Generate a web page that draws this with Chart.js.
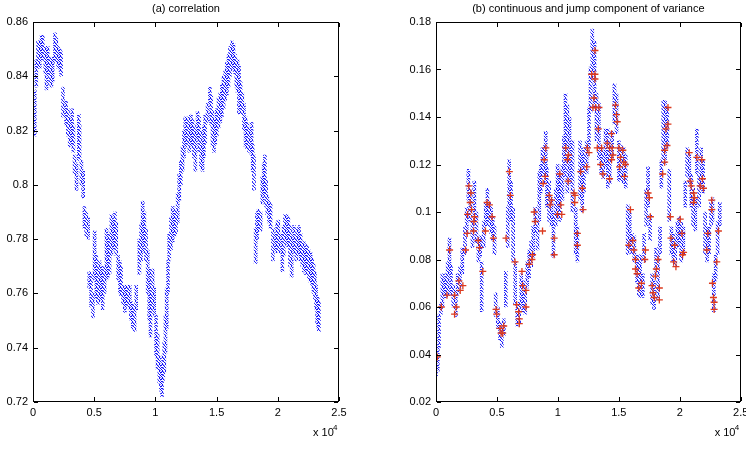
<!DOCTYPE html>
<html>
<head>
<meta charset="utf-8">
<script src="https://cdn.jsdelivr.net/npm/chart.js@4.4.1/dist/chart.umd.min.js"></script>
<style>
  body { margin: 0; background: #fff; }
  #wrap { position: relative; width: 746px; height: 452px; }
  canvas { position: absolute; top: 0; }
</style>
</head>
<body>
<div id="wrap">
  <canvas id="corrChart" width="373" height="452" style="left:0"></canvas>
  <canvas id="varChart" width="373" height="452" style="left:373px"></canvas>
</div>
<script>
// (a) correlation: observation index and the low/high edge of the point cloud there
const corrIdx = [0,135,270,420,550,700,800,1000,1100,1200,
  1400,1500,1600,1800,1900,2050,2200,2300,2450,2700,
  2850,3000,3200,3300,3400,3550,3750,3800,3950,4100,
  4200,4350,4500,4600,4750,4900,5030,5170,5300,5440,
  5580,5700,5850,6000,6120,6250,6400,6550,6700,6800,
  6950,7100,7200,7350,7500,7600,7750,7900,8000,8150,
  8300,8430,8690,8830,8960,9100,9230,9370,9500,9600,
  9775,9900,10050,10180,10320,10450,10540,10640,10730,10820,
  10920,11030,11130,11270,11410,11550,11680,11820,11950,12080,
  12220,12330,12440,12630,12770,12900,13040,13150,13260,13450,
  13580,13720,13850,13960,14070,14260,14450,14560,14670,14780,
  14890,15020,15160,15300,15430,15570,15700,15830,15970,16100,
  16250,16380,16520,16620,16710,16830,16960,17100,17230,17370,
  17500,17650,17860,17950,18050,18190,18300,18410,18600,18730,
  18850,18950,19040,19140,19280,19410,19600,19820,19950,20040,
  20230,20370,20480,20580,20720,20860,21000,21130,21320,21510,
  21620,21730,21870,22000,22130,22270,22400,22540,22680,22810,
  22920,23030,23120,23220,23300,23360];
const corrLo = [0.818,0.818,0.836,0.843,0.843,0.847,0.846,0.841,0.835,0.841,
  0.837,0.836,0.838,0.846,0.845,0.843,0.842,0.840,0.825,0.822,
  0.818,0.814,0.815,0.812,0.804,0.798,0.809,0.810,0.800,0.795,
  0.784,0.781,0.780,0.762,0.755,0.751,0.765,0.758,0.756,0.757,
  0.758,0.754,0.760,0.765,0.766,0.767,0.774,0.776,0.777,0.774,
  0.765,0.760,0.759,0.756,0.753,0.755,0.756,0.754,0.750,0.747,
  0.746,0.754,0.767,0.772,0.775,0.778,0.772,0.760,0.750,0.744,
  0.754,0.752,0.737,0.732,0.727,0.724,0.722,0.728,0.731,0.738,
  0.747,0.760,0.772,0.776,0.779,0.781,0.782,0.786,0.794,0.800,
  0.805,0.810,0.814,0.815,0.812,0.815,0.814,0.810,0.805,0.817,
  0.812,0.806,0.805,0.810,0.815,0.823,0.830,0.822,0.814,0.812,
  0.815,0.818,0.821,0.823,0.825,0.828,0.831,0.833,0.836,0.840,
  0.843,0.842,0.841,0.836,0.834,0.826,0.828,0.826,0.820,0.814,
  0.813,0.812,0.811,0.805,0.798,0.771,0.780,0.783,0.783,0.793,
  0.796,0.796,0.792,0.789,0.786,0.784,0.772,0.776,0.775,0.777,
  0.775,0.768,0.774,0.780,0.778,0.777,0.770,0.766,0.775,0.772,
  0.774,0.775,0.772,0.770,0.768,0.767,0.768,0.765,0.764,0.763,
  0.760,0.758,0.754,0.749,0.747,0.746];
const corrHi = [0.826,0.835,0.846,0.853,0.853,0.855,0.855,0.851,0.850,0.851,
  0.847,0.846,0.847,0.856,0.854,0.851,0.850,0.849,0.836,0.831,
  0.828,0.825,0.828,0.822,0.811,0.808,0.826,0.822,0.809,0.805,
  0.792,0.790,0.788,0.768,0.767,0.760,0.783,0.774,0.770,0.772,
  0.770,0.768,0.770,0.784,0.780,0.782,0.789,0.787,0.790,0.786,
  0.774,0.772,0.770,0.763,0.762,0.763,0.763,0.763,0.757,0.756,
  0.755,0.763,0.780,0.786,0.794,0.790,0.784,0.776,0.769,0.760,
  0.769,0.762,0.752,0.745,0.737,0.734,0.732,0.737,0.742,0.752,
  0.762,0.772,0.782,0.788,0.792,0.790,0.791,0.797,0.804,0.809,
  0.814,0.820,0.825,0.825,0.823,0.826,0.824,0.822,0.820,0.827,
  0.825,0.820,0.816,0.822,0.826,0.830,0.836,0.833,0.827,0.824,
  0.824,0.828,0.832,0.834,0.837,0.840,0.842,0.845,0.848,0.851,
  0.853,0.852,0.848,0.846,0.846,0.844,0.838,0.834,0.830,0.825,
  0.823,0.821,0.823,0.815,0.811,0.784,0.790,0.791,0.790,0.803,
  0.808,0.811,0.802,0.796,0.794,0.793,0.784,0.782,0.786,0.787,
  0.782,0.776,0.785,0.789,0.789,0.788,0.785,0.781,0.785,0.781,
  0.784,0.785,0.782,0.779,0.779,0.777,0.778,0.776,0.775,0.773,
  0.771,0.768,0.763,0.759,0.758,0.757];

// (b) continuous component: low/high edge of the cloud
const varIdx = [0,140,250,410,520,690,830,960,1100,1230,
  1420,1620,1780,1970,2160,2380,2520,2660,2820,2990,
  3150,3320,3480,3620,3750,3920,4080,4220,4360,4520,
  4660,4800,4900,5070,5260,5400,5560,5730,5890,6000,
  6160,6330,6490,6660,6820,6990,7150,7320,7480,7640,
  7810,7970,8140,8330,8470,8600,8740,8880,9000,9090,
  9280,9470,9640,9830,9970,10100,10180,10370,10500,10620,
  10780,10950,11200,11460,11600,11820,12000,12140,12360,12550,
  12680,12820,13010,13170,13360,13550,13720,13910,14100,14260,
  14450,14640,14810,15000,15190,15400,15570,15730,15890,16080,
  16270,16490,16650,16750,16970,17080,17240,17400,17570,17730,
  17890,18060,18220,18380,18490,18650,18790,18980,19140,19310,
  19470,19630,19800,19960,20120,20290,20450,20610,20780,20940,
  21100,21270,21400,21590,21750,21920,22080,22240,22410,22570,
  22680,22790,22950,23110,23280];
const varLo = [0.031,0.033,0.043,0.057,0.060,0.064,0.064,0.065,0.074,0.065,
  0.060,0.056,0.065,0.068,0.074,0.082,0.091,0.105,0.096,0.085,
  0.096,0.087,0.079,0.081,0.058,0.085,0.094,0.096,0.094,0.091,
  0.088,0.082,0.056,0.051,0.046,0.043,0.048,0.060,0.085,0.102,
  0.096,0.079,0.061,0.052,0.053,0.060,0.058,0.057,0.068,0.072,
  0.077,0.081,0.091,0.084,0.096,0.108,0.115,0.116,0.112,0.102,
  0.096,0.094,0.081,0.094,0.098,0.100,0.096,0.105,0.115,0.122,
  0.108,0.112,0.100,0.082,0.079,0.105,0.100,0.108,0.116,0.127,
  0.142,0.156,0.144,0.130,0.122,0.116,0.114,0.119,0.110,0.112,
  0.122,0.137,0.133,0.113,0.113,0.112,0.110,0.082,0.084,0.082,
  0.079,0.070,0.065,0.064,0.064,0.079,0.094,0.102,0.088,0.061,
  0.059,0.074,0.063,0.082,0.110,0.122,0.120,0.127,0.096,0.082,
  0.079,0.077,0.085,0.087,0.079,0.082,0.102,0.115,0.112,0.102,
  0.094,0.092,0.116,0.102,0.110,0.108,0.082,0.079,0.082,0.094,
  0.096,0.058,0.071,0.082,0.094];
const varHi = [0.041,0.043,0.057,0.062,0.074,0.072,0.074,0.079,0.089,0.078,
  0.069,0.067,0.074,0.077,0.085,0.094,0.102,0.118,0.110,0.096,
  0.113,0.100,0.089,0.090,0.079,0.096,0.104,0.110,0.104,0.102,
  0.098,0.094,0.066,0.060,0.054,0.051,0.055,0.075,0.102,0.122,
  0.113,0.102,0.079,0.062,0.062,0.074,0.071,0.068,0.079,0.084,
  0.088,0.094,0.102,0.096,0.117,0.120,0.127,0.128,0.134,0.119,
  0.113,0.106,0.100,0.110,0.120,0.116,0.116,0.120,0.132,0.150,
  0.145,0.140,0.130,0.102,0.094,0.130,0.124,0.127,0.130,0.144,
  0.161,0.177,0.172,0.150,0.146,0.127,0.126,0.135,0.135,0.130,
  0.134,0.154,0.150,0.130,0.128,0.127,0.124,0.103,0.100,0.091,
  0.090,0.082,0.079,0.082,0.074,0.091,0.110,0.119,0.099,0.074,
  0.071,0.085,0.082,0.094,0.122,0.147,0.147,0.144,0.118,0.094,
  0.091,0.089,0.096,0.098,0.096,0.094,0.113,0.127,0.125,0.116,
  0.110,0.106,0.135,0.116,0.127,0.122,0.100,0.094,0.094,0.104,
  0.106,0.074,0.082,0.096,0.104];

// (b) jump component (red crosses)
const jumpIdx = [108,435,898,1116,1524,1524,1660,1878,1987,2205,
  2423,2559,2586,2695,2804,2859,2913,3076,3104,3158,
  3458,3567,3839,4057,4193,4384,4601,4710,4928,4983,
  5255,5337,5473,5555,5745,6017,6099,6480,6616,6780,
  6834,6834,7052,7107,7379,7379,7651,7869,7923,8060,
  8142,8740,8795,8876,8958,9013,9285,9367,9476,9694,
  9694,9966,10157,10238,10320,10646,10783,10837,10864,11327,
  11381,11409,11600,11600,11871,12008,12062,12362,12416,12552,
  12770,12879,12960,13042,13042,13042,13097,13233,13315,13369,
  13505,13587,13696,14050,14240,14240,14404,14404,14458,14513,
  14731,14812,14867,15003,15058,15139,15330,15411,15466,15548,
  15820,15956,16150,16230,16366,16366,16500,16637,16855,17128,
  17182,17399,17508,17590,17727,17808,17917,17998,18080,18216,
  18325,18325,18598,18761,18761,18870,18952,19033,19033,19224,
  19278,19496,19577,19686,20040,20177,20231,20313,20776,20857,
  20939,21130,21130,21211,21402,21674,21810,21864,21946,22219,
  22301,22627,22627,22682,22764,22819,22819,23036,23172];
const jumpVal = [0.039,0.060,0.065,0.084,0.065,0.057,0.060,0.071,0.067,0.069,
  0.084,0.091,0.099,0.111,0.104,0.108,0.101,0.092,0.096,0.098,
  0.088,0.085,0.075,0.092,0.104,0.103,0.098,0.089,0.059,0.057,
  0.051,0.049,0.049,0.052,0.089,0.117,0.107,0.079,0.061,0.058,
  0.055,0.053,0.075,0.069,0.067,0.060,0.078,0.080,0.082,0.100,
  0.096,0.092,0.112,0.122,0.115,0.127,0.107,0.103,0.105,0.089,
  0.082,0.099,0.116,0.103,0.099,0.127,0.122,0.113,0.124,0.108,
  0.104,0.107,0.091,0.086,0.117,0.110,0.101,0.119,0.127,0.125,
  0.158,0.144,0.148,0.168,0.158,0.156,0.144,0.127,0.135,0.144,
  0.120,0.127,0.116,0.129,0.127,0.114,0.133,0.122,0.127,0.124,
  0.145,0.141,0.138,0.127,0.119,0.123,0.126,0.121,0.115,0.120,
  0.086,0.101,0.088,0.084,0.080,0.076,0.074,0.068,0.070,0.080,
  0.084,0.108,0.106,0.098,0.069,0.066,0.064,0.073,0.076,0.080,
  0.068,0.063,0.116,0.121,0.126,0.135,0.128,0.137,0.144,0.098,
  0.089,0.079,0.086,0.077,0.097,0.091,0.082,0.083,0.125,0.113,
  0.111,0.108,0.104,0.106,0.123,0.111,0.122,0.114,0.110,0.084,
  0.091,0.105,0.101,0.070,0.064,0.062,0.059,0.079,0.092];

const xTicks = [0, 5000, 10000, 15000, 20000, 25000];
const corrTicks = [0.72, 0.74, 0.76, 0.78, 0.8, 0.82, 0.84, 0.86];
const varTicks = [0.02, 0.04, 0.06, 0.08, 0.1, 0.12, 0.14, 0.16, 0.18];

const FONT = 'Liberation Sans, Arial, Helvetica, sans-serif';

function bandData(idx, lo, hi) {
  return idx.map((x, i) => ({ x: x, y: [lo[i], hi[i]] }));
}

// speckled blue fill so the bands read like a cloud of tiny dots
function dotPattern() {
  const c = document.createElement('canvas');
  c.width = 6; c.height = 7;
  const g = c.getContext('2d');
  g.fillStyle = 'rgba(10, 10, 250, 0.9)';
  [[0,0],[3,0],[1,1],[4,1],[5,1],[2,2],[0,3],[3,3],[5,3],
   [1,4],[4,4],[2,5],[5,5],[0,6],[3,6]].forEach(p => g.fillRect(p[0], p[1], 1, 1));
  g.fillStyle = 'rgba(110, 110, 255, 0.45)';
  [[1,0],[5,0],[2,1],[4,2],[1,3],[0,4],[3,5],[4,6]].forEach(p => g.fillRect(p[0], p[1], 1, 1));
  return c;
}

// matlab style box: frame, inward ticks on all 4 sides, title, x 10^4 note
const boxPlugin = {
  id: 'matlabBox',
  afterDraw(chart) {
    const ctx = chart.ctx;
    const a = chart.chartArea;
    const xs = chart.scales.x, ys = chart.scales.y;
    const L = Math.round(a.left), R = Math.round(a.right);
    const T = Math.round(a.top), B = Math.round(a.bottom);
    ctx.save();
    ctx.fillStyle = '#000';
    ctx.fillRect(L, T, R - L, 1);
    ctx.fillRect(L, B - 1, R - L, 1);
    ctx.fillRect(L, T, 1, B - T);
    ctx.fillRect(R - 1, T, 1, B - T);
    xs.ticks.forEach(t => {
      const px = Math.round(xs.getPixelForValue(t.value));
      ctx.fillRect(px, B - 5, 1, 4);
      ctx.fillRect(px, T + 1, 1, 4);
    });
    ys.ticks.forEach(t => {
      const py = Math.round(ys.getPixelForValue(t.value));
      ctx.fillRect(L + 1, py, 4, 1);
      ctx.fillRect(R - 5, py, 4, 1);
    });

    ctx.font = '11px ' + FONT;
    ctx.textAlign = 'center';
    ctx.textBaseline = 'middle';
    ctx.fillText(chart.options.plugins.matlabBox.title, (a.left + a.right) / 2, 9);

    ctx.textAlign = 'left';
    ctx.textBaseline = 'alphabetic';
    ctx.fillText('x 10', a.right - 26, 436);
    ctx.font = '8px ' + FONT;
    ctx.fillText('4', a.right - 6, 430);
    ctx.restore();
  }
};

function makeOptions(title, yMin, yMax, yTicks, yWidth, padRight) {
  return {
    responsive: false,
    animation: false,
    layout: { padding: { top: 22, right: padRight, bottom: 0, left: 0 } },
    plugins: {
      legend: { display: false },
      tooltip: { enabled: false },
      matlabBox: { title: title }
    },
    scales: {
      x: {
        type: 'linear',
        offset: false,
        min: 0, max: 25000,
        grid: { display: false, drawTicks: false, offset: false },
        border: { display: false },
        afterBuildTicks: s => { s.ticks = xTicks.map(v => ({ value: v })); },
        afterFit: s => { s.height = 50; s.paddingLeft = 0; s.paddingRight = 0; },
        ticks: {
          padding: 4,
          color: '#000',
          font: { family: FONT, size: 11 },
          maxRotation: 0,
          callback: v => String(v / 10000)
        }
      },
      y: {
        min: yMin, max: yMax,
        grid: { display: false, drawTicks: false },
        border: { display: false },
        afterBuildTicks: s => { s.ticks = yTicks.map(v => ({ value: v })); },
        afterFit: s => { s.width = yWidth; s.paddingTop = 0; s.paddingBottom = 0; },
        ticks: {
          padding: 5,
          color: '#000',
          font: { family: FONT, size: 11 },
          callback: v => String(+v.toFixed(2))
        }
      }
    }
  };
}

const cloudFill = document.createElement('canvas').getContext('2d').createPattern(dotPattern(), 'repeat');

new Chart(document.getElementById('corrChart'), {
  type: 'bar',
  data: {
    datasets: [{
      data: bandData(corrIdx, corrLo, corrHi),
      backgroundColor: cloudFill,
      borderWidth: 0,
      barThickness: 3,
      grouped: false
    }]
  },
  options: makeOptions('(a) correlation', 0.72, 0.86, corrTicks, 33, 34),
  plugins: [boxPlugin]
});

new Chart(document.getElementById('varChart'), {
  type: 'bar',
  data: {
    datasets: [{
      type: 'scatter',
      order: 0,
      data: jumpIdx.map((x, i) => ({ x: x, y: jumpVal[i] })),
      pointStyle: 'cross',
      radius: 3.5,
      borderColor: '#dc3a1e',
      borderWidth: 1.3,
      showLine: false
    }, {
      order: 1,
      data: bandData(varIdx, varLo, varHi),
      backgroundColor: cloudFill,
      borderWidth: 0,
      barThickness: 3,
      grouped: false
    }]
  },
  options: makeOptions('(b) continuous and jump component of variance', 0.02, 0.18, varTicks, 63, 4),
  plugins: [boxPlugin]
});
</script>
</body>
</html>
